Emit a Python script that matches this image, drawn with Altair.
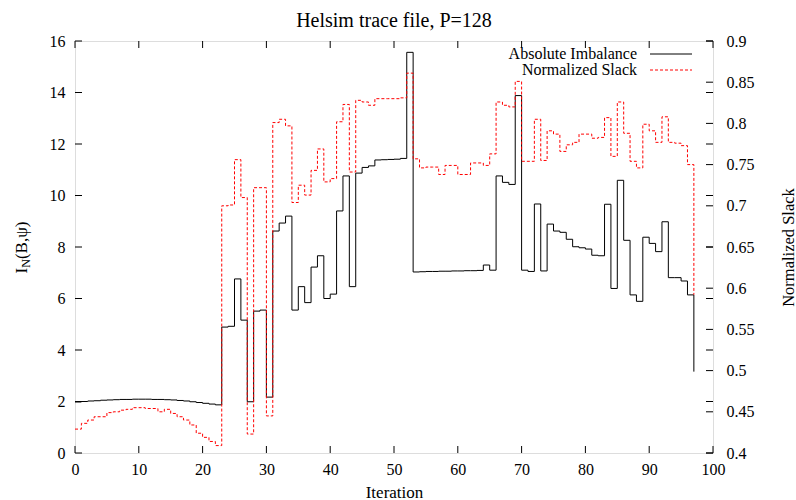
import altair as alt
import pandas as pd

# ---------------- data ----------------
iterations = list(range(98))

imbalance = [
    1.98, 2.00, 2.02, 2.03, 2.05, 2.06, 2.07, 2.08, 2.08, 2.09,
    2.09, 2.09, 2.08, 2.08, 2.07, 2.06, 2.04, 2.02, 1.99, 1.96,
    1.93, 1.90, 1.87, 4.89, 4.92, 6.76, 5.16, 1.99, 5.51, 5.55,
    2.17, 8.62, 8.93, 9.20, 5.55, 6.46, 5.84, 7.22, 7.66, 6.00,
    6.17, 9.40, 10.76, 6.46, 10.87, 11.09, 11.15, 11.38, 11.39, 11.40,
    11.41, 11.44, 15.56, 7.03, 7.04, 7.05, 7.05, 7.06, 7.06, 7.07,
    7.07, 7.08, 7.08, 7.09, 7.30, 7.10, 10.76, 10.51, 10.43, 13.88,
    7.10, 7.05, 9.67, 7.07, 8.89, 8.62, 8.57, 8.30, 8.01, 7.97,
    7.92, 7.68, 7.66, 9.66, 6.39, 10.59, 8.26, 6.14, 5.89, 8.38,
    8.14, 7.82, 8.98, 6.81, 6.81, 6.68, 6.14, 3.16,
]

slack = [
    0.429, 0.436, 0.440, 0.444, 0.444, 0.449, 0.450, 0.452, 0.453, 0.455,
    0.455, 0.454, 0.454, 0.450, 0.453, 0.448, 0.444, 0.440, 0.434, 0.424,
    0.419, 0.414, 0.409, 0.700, 0.701, 0.756, 0.710, 0.423, 0.722, 0.722,
    0.445, 0.801, 0.805, 0.797, 0.704, 0.725, 0.713, 0.743, 0.769, 0.729,
    0.733, 0.802, 0.823, 0.741, 0.828, 0.826, 0.822, 0.830, 0.830, 0.830,
    0.830, 0.831, 0.861, 0.757, 0.746, 0.747, 0.747, 0.738, 0.749, 0.749,
    0.738, 0.738, 0.752, 0.752, 0.749, 0.763, 0.826, 0.822, 0.820, 0.851,
    0.754, 0.754, 0.805, 0.755, 0.791, 0.787, 0.766, 0.774, 0.777, 0.787,
    0.787, 0.782, 0.783, 0.807, 0.760, 0.826, 0.788, 0.754, 0.746, 0.799,
    0.791, 0.777, 0.808, 0.777, 0.776, 0.773, 0.750, 0.592,
]

x_tick_values = [0, 10, 20, 30, 40, 50, 60, 70, 80, 90, 100]
left_tick_values = [0, 2, 4, 6, 8, 10, 12, 14, 16]
right_tick_values = [0.4, 0.45, 0.5, 0.55, 0.6, 0.65, 0.7, 0.75, 0.8, 0.85, 0.9]
series_names = ["Absolute Imbalance", "Normalized Slack"]
chart_title = "Helsim trace file, P=128"
x_title = "Iteration"
y2_title = "Normalized Slack"
y_title_parts = ["I", "N", "(B,\u03c8)"]

# ---------------- layout / style ----------------
W, H = 638, 412
FONT = "Liberation Serif"
TICK = 7
RED = "#ff0000"

df = pd.DataFrame({"iter": iterations, "imb": imbalance, "slack": slack})

x_scale = alt.Scale(domain=[0, 100], nice=False, zero=False)
x_axis = alt.Axis(values=x_tick_values, title=x_title, labelFont=FONT, labelFontSize=16,
                  labelColor="black", labelPadding=8, labelFlush=False, labelOverlap=False,
                  ticks=False, tickSize=0, domain=False, grid=False,
                  titleFont=FONT, titleFontSize=17, titleFontWeight="normal", titleColor="black",
                  titleY=39, titleBaseline="middle")

yl_scale = alt.Scale(domain=[0, 16], nice=False, zero=False)
yl_axis = alt.Axis(orient="left", values=left_tick_values, title=None, labelFont=FONT,
                   labelFontSize=16, labelColor="black", labelPadding=10, labelFlush=False,
                   labelOverlap=False, ticks=False, tickSize=0, domain=False, grid=False)

yr_scale = alt.Scale(domain=[0.4, 0.9], nice=False, zero=False)
yr_axis = alt.Axis(orient="right", values=right_tick_values, format="~g", title=y2_title,
                   labelFont=FONT, labelFontSize=16, labelColor="black", labelPadding=13,
                   labelFlush=False, labelOverlap=False, ticks=False, tickSize=0,
                   domain=False, grid=False, titleFont=FONT, titleFontSize=16.5,
                   titleFontWeight="normal", titleColor="black", titleAngle=270,
                   titleX=75, titleY=H / 2, titleAlign="center", titleBaseline="middle")

X_ENC = dict(scale=x_scale, axis=x_axis)

black_line = alt.Chart(df).mark_line(interpolate="step-after", color="black", strokeWidth=1).encode(
    x=alt.X("iter:Q", **X_ENC),
    y=alt.Y("imb:Q", scale=yl_scale, axis=yl_axis),
)

red_line = alt.Chart(df).mark_line(interpolate="step-after", color=RED, strokeWidth=1,
                                   strokeDash=[3, 2]).encode(
    x=alt.X("iter:Q", **X_ENC),
    y=alt.Y("slack:Q", scale=yr_scale, axis=yr_axis),
)

# inward ticks (gnuplot style)
lt_df = pd.DataFrame({"imb": left_tick_values})
rt_df = pd.DataFrame({"slack": right_tick_values})
xt_df = pd.DataFrame({"iter": x_tick_values})

left_ticks_in = alt.Chart(lt_df).mark_rule(color="black", strokeWidth=1).encode(
    y=alt.Y("imb:Q", scale=yl_scale, axis=yl_axis), x=alt.value(0), x2=alt.value(TICK))
left_ticks_mirror = alt.Chart(lt_df).mark_rule(color="black", strokeWidth=1).encode(
    y=alt.Y("imb:Q", scale=yl_scale, axis=yl_axis), x=alt.value(W - TICK), x2=alt.value(W))
right_ticks_in = alt.Chart(rt_df).mark_rule(color="black", strokeWidth=1).encode(
    y=alt.Y("slack:Q", scale=yr_scale, axis=yr_axis), x=alt.value(W - TICK), x2=alt.value(W))
x_ticks_bottom = alt.Chart(xt_df).mark_rule(color="black", strokeWidth=1).encode(
    x=alt.X("iter:Q", **X_ENC), y=alt.value(H - TICK), y2=alt.value(H))
x_ticks_top = alt.Chart(xt_df).mark_rule(color="black", strokeWidth=1).encode(
    x=alt.X("iter:Q", **X_ENC), y=alt.value(0), y2=alt.value(TICK))

# legend (gnuplot key, top right)
leg_df0 = pd.DataFrame({"name": [series_names[0]]})
leg_df1 = pd.DataFrame({"name": [series_names[1]]})
LX_TEXT, LX1, LX2 = 562, 575, 617
LY0, LY1 = 13, 29
leg_t0 = alt.Chart(leg_df0).mark_text(align="right", baseline="middle", font=FONT, fontSize=16,
                                      color="black").encode(
    text="name:N", x=alt.value(LX_TEXT), y=alt.value(LY0))
leg_t1 = alt.Chart(leg_df1).mark_text(align="right", baseline="middle", font=FONT, fontSize=16,
                                      color="black").encode(
    text="name:N", x=alt.value(LX_TEXT), y=alt.value(LY1))
leg_l0 = alt.Chart(leg_df0).mark_rule(color="black", strokeWidth=1).encode(
    x=alt.value(LX1), x2=alt.value(LX2), y=alt.value(LY0))
leg_l1 = alt.Chart(leg_df1).mark_rule(color=RED, strokeWidth=1, strokeDash=[3, 2]).encode(
    x=alt.value(LX1), x2=alt.value(LX2), y=alt.value(LY1))

# left axis title I_N(B,psi) built from pieces (subscript)
YT_X = -53
yt_I = alt.Chart(pd.DataFrame({"s": [y_title_parts[0]]})).mark_text(
    align="left", baseline="middle", angle=270, font=FONT, fontSize=17, color="black").encode(
    text="s:N", x=alt.value(YT_X), y=alt.value(232.5))
yt_N = alt.Chart(pd.DataFrame({"s": [y_title_parts[1]]})).mark_text(
    align="left", baseline="middle", angle=270, font=FONT, fontSize=12, color="black").encode(
    text="s:N", x=alt.value(YT_X + 4), y=alt.value(226.8))
yt_B = alt.Chart(pd.DataFrame({"s": [y_title_parts[2]]})).mark_text(
    align="left", baseline="middle", angle=270, font=FONT, fontSize=17, color="black").encode(
    text="s:N", x=alt.value(YT_X), y=alt.value(218.1))

left_group = alt.layer(black_line, left_ticks_in, left_ticks_mirror, x_ticks_bottom, x_ticks_top,
                       leg_t0, leg_t1, leg_l0, leg_l1, yt_I, yt_N, yt_B)
right_group = alt.layer(red_line, right_ticks_in)

chart = alt.layer(left_group, right_group).resolve_scale(y="independent").properties(
    width=W, height=H,
    autosize=alt.AutoSizeParams(type="none"),
    padding={"left": 75, "top": 41, "right": 83, "bottom": 47},
    title=alt.TitleParams(text=chart_title, font=FONT, fontSize=20, fontWeight="normal",
                          color="black", anchor="middle", frame="group", baseline="middle",
                          offset=4, dy=12),
).configure_view(stroke="black", strokeWidth=1).configure(background="white")

chart.save("out.html", embed_options={"renderer": "svg", "actions": False})
